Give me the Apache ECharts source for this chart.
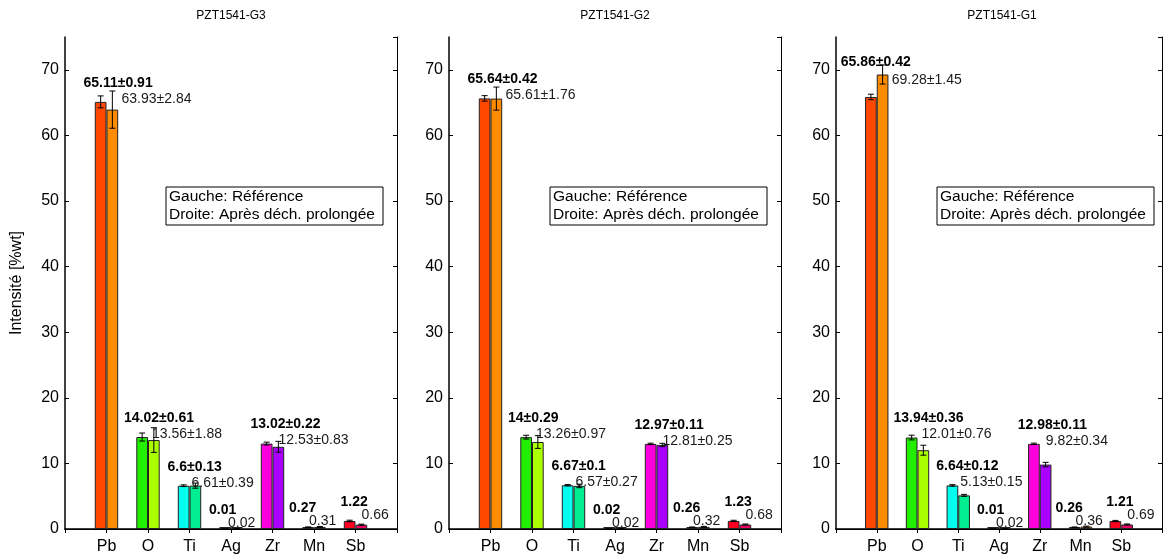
<!DOCTYPE html>
<html><head><meta charset="utf-8">
<script src="https://cdn.jsdelivr.net/npm/echarts@6/dist/echarts.min.js"></script>
<style>html,body{margin:0;padding:0;background:#fff}#c{width:1165px;height:555px}</style>
</head><body><div id="c"></div>
<script>
// ---------------- data ----------------
const categories = ['Pb', 'O', 'Ti', 'Ag', 'Zr', 'Mn', 'Sb'];
const panelTitles = ['PZT1541-G3', 'PZT1541-G2', 'PZT1541-G1'];
const yTickMax = 75;
const yTickStep = 10;
const yName = 'Intensité [%wt]';
const legendLines = ['Gauche: Référence', 'Droite: Après déch. prolongée'];

const g3Ref      = [65.11, 14.02, 6.6, 0.01, 13.02, 0.27, 1.22];
const g3RefErr   = [0.91, 0.61, 0.13, 0.01, 0.22, 0.05, 0.12];
const g3After    = [63.93, 13.56, 6.61, 0.02, 12.53, 0.31, 0.66];
const g3AfterErr = [2.84, 1.88, 0.39, 0.01, 0.83, 0.08, 0.08];

const g2Ref      = [65.64, 14, 6.67, 0.02, 12.97, 0.26, 1.23];
const g2RefErr   = [0.42, 0.29, 0.1, 0.01, 0.11, 0.05, 0.1];
const g2After    = [65.61, 13.26, 6.57, 0.02, 12.81, 0.32, 0.68];
const g2AfterErr = [1.76, 0.97, 0.27, 0.01, 0.25, 0.08, 0.08];

const g1Ref      = [65.86, 13.94, 6.64, 0.01, 12.98, 0.26, 1.21];
const g1RefErr   = [0.42, 0.36, 0.12, 0.01, 0.11, 0.05, 0.1];
const g1After    = [69.28, 12.01, 5.13, 0.02, 9.82, 0.36, 0.69];
const g1AfterErr = [1.45, 0.76, 0.15, 0.01, 0.34, 0.08, 0.08];

const showErr = [true, true, true, false, true, false, false];

// ---------------- style / layout ----------------
const refColors   = ['#FF4800', '#22EE00', '#00FFEE', '#1A1A70', '#FF00DD', '#CCA600', '#FF0022'];
const afterColors = ['#FF8C00', '#AAFF00', '#00EE90', '#000099', '#AA00FF', '#F08000', '#EE0066'];
const FONT = '"Liberation Sans", Arial, sans-serif';
const gridLefts = [65, 449, 836];
const gridW = 332, gridTop = 37, gridBottom = 25;
const BAR_W = 11.7;
const boldDx  = [-23, -24, -22, -22, -22, -25, -15];
const rightDx = [15, 4, 2, -3, 6, -5, 6];
const tweaks = { 2: { 0: { boldDx: -36, rightDy: 2 } } };

const panels = [
  { title: panelTitles[0], ref: g3Ref, refErr: g3RefErr, after: g3After, afterErr: g3AfterErr },
  { title: panelTitles[1], ref: g2Ref, refErr: g2RefErr, after: g2After, afterErr: g2AfterErr },
  { title: panelTitles[2], ref: g1Ref, refErr: g1RefErr, after: g1After, afterErr: g1AfterErr }
];
const xCats = [''].concat(categories, ['']);
const fmt = v => String(v);

function makeRender(pi) {
  return function (params, api) {
    const x = api.value(0), k = api.value(5);
    const ref = api.value(1), refE = api.value(2), aft = api.value(3), aftE = api.value(4);
    const cx = api.coord([x, 0])[0];
    const y = v => api.coord([x, v])[1];
    const lx = cx - BAR_W / 2, rx = cx + BAR_W / 2;
    const ch = [];
    const eb = (ex, v, e) => {
      const t = y(v + e), b = y(Math.max(v - e, 0));
      const st = { stroke: '#000', lineWidth: 1 };
      ch.push({ type: 'line', shape: { x1: ex, y1: t, x2: ex, y2: b }, style: st });
      ch.push({ type: 'line', shape: { x1: ex - 3, y1: t, x2: ex + 3, y2: t }, style: st });
      ch.push({ type: 'line', shape: { x1: ex - 3, y1: b, x2: ex + 3, y2: b }, style: st });
    };
    eb(lx, ref, refE);
    eb(rx, aft, aftE);
    const tw = (tweaks[pi] && tweaks[pi][k]) || {};
    const boldY = Math.min(y(ref) - 19, y(aft + aftE) - 3);
    const rightY = boldY + (showErr[k] ? 16 : 13) + (tw.rightDy || 0);
    const bt = showErr[k] ? fmt(ref) + '±' + fmt(refE) : fmt(ref);
    const rt = showErr[k] ? fmt(aft) + '±' + fmt(aftE) : fmt(aft);
    ch.push({ type: 'text', x: cx + (tw.boldDx != null ? tw.boldDx : boldDx[k]), y: boldY,
      style: { text: bt, fill: '#000', font: 'bold 14px ' + FONT, align: 'left', verticalAlign: 'middle',
               textAlign: 'left', textVerticalAlign: 'middle' } });
    ch.push({ type: 'text', x: cx + rightDx[k], y: rightY,
      style: { text: rt, fill: '#1a1a1a', font: '14px ' + FONT, align: 'left', verticalAlign: 'middle',
               textAlign: 'left', textVerticalAlign: 'middle' } });
    return { type: 'group', children: ch };
  };
}

const grids = [], xAxes = [], yAxes = [], series = [], graphics = [];
panels.forEach((p, pi) => {
  const left = gridLefts[pi];
  grids.push({ left: left, top: gridTop, width: gridW, bottom: gridBottom, containLabel: false });
  xAxes.push({ type: 'category', gridIndex: pi, data: xCats, boundaryGap: false, position: 'bottom',
    axisLine: { lineStyle: { color: '#000', width: 1.5 } }, axisTick: { show: false },
    axisLabel: { color: '#000', fontSize: 16, fontFamily: FONT, margin: 10, interval: 0 } });
  xAxes.push({ type: 'category', gridIndex: pi, data: xCats, boundaryGap: false, position: 'top',
    axisLine: { lineStyle: { color: '#000', width: 1 } },
    axisTick: { inside: true, length: 4, interval: 0, lineStyle: { color: '#000' } },
    axisLabel: { show: false } });
  yAxes.push({ type: 'value', gridIndex: pi, min: 0, max: yTickMax, interval: yTickStep, position: 'left',
    name: pi === 0 ? yName : '', nameLocation: 'middle', nameGap: 40, nameRotate: 90,
    nameTextStyle: { fontSize: 16, color: '#000', fontFamily: FONT },
    axisLine: { show: true, lineStyle: { color: '#000', width: 1.5 } },
    axisTick: { show: true, inside: true, length: 4, lineStyle: { color: '#000' } },
    splitLine: { show: false },
    axisLabel: { color: '#000', fontSize: 16, fontFamily: FONT, margin: 6, showMaxLabel: false } });
  yAxes.push({ type: 'value', gridIndex: pi, min: 0, max: yTickMax, interval: yTickStep, position: 'right',
    axisLine: { show: true, lineStyle: { color: '#000', width: 1 } },
    axisTick: { show: true, inside: true, length: 4, lineStyle: { color: '#000' } },
    splitLine: { show: false }, axisLabel: { show: false } });

  const xi = 2 * pi, yi = 2 * pi;
  series.push({ type: 'bar', xAxisIndex: xi, yAxisIndex: yi, barWidth: BAR_W, barGap: '0%', silent: true,
    barMinHeight: 2, itemStyle: { borderColor: '#222', borderWidth: 1 },
    data: ['-'].concat(p.ref.map((v, i) => ({ value: v, itemStyle: { color: refColors[i] } })), ['-']) });
  series.push({ type: 'bar', xAxisIndex: xi, yAxisIndex: yi, barWidth: BAR_W, barGap: '0%', silent: true,
    barMinHeight: 2, itemStyle: { borderColor: '#222', borderWidth: 1 },
    data: ['-'].concat(p.after.map((v, i) => ({ value: v, itemStyle: { color: afterColors[i] } })), ['-']) });
  series.push({ type: 'custom', xAxisIndex: xi, yAxisIndex: yi, clip: false, silent: true, z: 10,
    renderItem: makeRender(pi),
    data: p.ref.map((v, i) => [i + 1, v, p.refErr[i], p.after[i], p.afterErr[i], i]) });

  graphics.push({ type: 'text', x: left + gridW / 2, y: 16,
    style: { text: p.title, fill: '#000', font: '12px ' + FONT, align: 'center', verticalAlign: 'middle',
             textAlign: 'center', textVerticalAlign: 'middle' } });
  const bx = left + gridW - 14 - 217, by = 187;
  graphics.push({ type: 'rect', shape: { x: bx, y: by, width: 217, height: 38 },
    style: { fill: '#fff', stroke: '#000', lineWidth: 1 }, z: 20 });
  legendLines.forEach((t, li) => {
    graphics.push({ type: 'text', x: bx + 3, y: by + 10 + li * 18, z: 21,
      style: { text: t, fill: '#000', font: '15.5px ' + FONT, align: 'left', verticalAlign: 'middle',
               textAlign: 'left', textVerticalAlign: 'middle' } });
  });
});

const chart = echarts.init(document.getElementById('c'));
chart.setOption({
  animation: false,
  backgroundColor: '#fff',
  grid: grids, xAxis: xAxes, yAxis: yAxes, series: series,
  graphic: { elements: graphics }
});
</script></body></html>
